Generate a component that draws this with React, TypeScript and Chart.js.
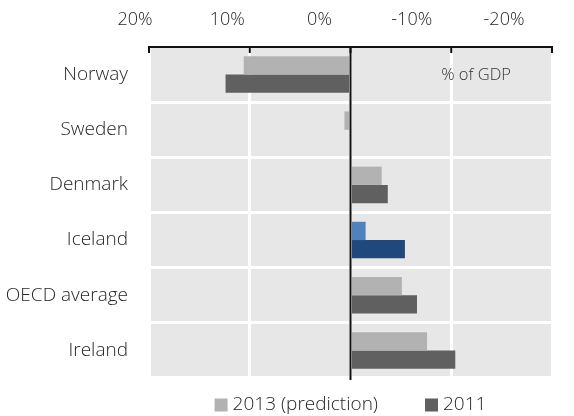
import React, { useEffect, useRef } from "react";
import { Chart, registerables } from "chart.js";

Chart.register(...registerables);

const categories = ["Norway", "Sweden", "Denmark", "Iceland", "OECD average", "Ireland"];
const series2013 = [10.6, 0.6, -3.1, -1.5, -5.1, -7.6];
const series2011 = [12.4, 0, -3.7, -5.4, -6.6, -10.4];
const tickValues = [20, 10, 0, -10, -20];
const seriesLabels = ["2013 (prediction)", "2011"];
const unitNote = "% of GDP";

const FONT = "'Open Sans', 'DejaVu Sans', sans-serif";
const light2013 = "#b2b2b2";
const dark2011 = "#606060";
const iceLight = "#4f81bd";
const iceDark = "#1f497d";

export default function App() {
  const ref = useRef<HTMLCanvasElement | null>(null);

  useEffect(() => {
    document.body.style.margin = "0";
    const canvas = ref.current;
    if (!canvas) return;

    const decor = {
      id: "decor",
      beforeDraw(chart: any) {
        const { ctx, chartArea } = chart;
        ctx.save();
        ctx.fillStyle = "#e7e7e7";
        ctx.fillRect(chartArea.left, chartArea.top, chartArea.right - chartArea.left, chartArea.bottom - chartArea.top);
        ctx.restore();
      },
      afterDatasetsDraw(chart: any) {
        const { ctx, chartArea, scales } = chart;
        const x = scales.x;
        const y = scales.y;
        ctx.save();
        // zero line
        const x0 = x.getPixelForValue(0);
        ctx.strokeStyle = "#111";
        ctx.lineWidth = 2;
        ctx.beginPath();
        ctx.moveTo(x0, chartArea.top);
        ctx.lineTo(x0, chartArea.bottom + 2);
        ctx.stroke();
        // top axis line
        ctx.beginPath();
        ctx.moveTo(chartArea.left - 1, chartArea.top);
        ctx.lineTo(chartArea.right + 1, chartArea.top);
        ctx.stroke();
        // tick marks
        tickValues.forEach((v) => {
          const px = x.getPixelForValue(v);
          ctx.beginPath();
          ctx.moveTo(px, chartArea.top);
          ctx.lineTo(px, chartArea.top + 6);
          ctx.stroke();
        });
        // tick labels
        ctx.fillStyle = "#262626";
        ctx.font = `300 18px ${FONT}`;
        ctx.textAlign = "center";
        ctx.textBaseline = "middle";
        tickValues.forEach((v) => {
          const px = x.getPixelForValue(v);
          const lx = 0.9156 * px - 1.4;
          ctx.fillText(`${v}%`, lx, 20);
        });
        // unit note
        ctx.font = `300 16.5px ${FONT}`;
        ctx.textAlign = "left";
        ctx.fillStyle = "#333";
        ctx.fillText(unitNote, x.getPixelForValue(-9), y.getPixelForValue(0) + 1);
        // legend
        ctx.font = `300 19px ${FONT}`;
        const colors = [light2013, dark2011];
        const box = 13;
        const gap = 5;
        const spacing = 47;
        const widths = seriesLabels.map((l) => ctx.measureText(l).width);
        const total = widths.reduce((a, w) => a + box + gap + w, 0) + spacing * (seriesLabels.length - 1);
        let lx = (chartArea.left + chartArea.right) / 2 - total / 2;
        const ly = 405;
        seriesLabels.forEach((l, i) => {
          ctx.fillStyle = colors[i];
          ctx.fillRect(lx, ly - box / 2, box, box);
          ctx.fillStyle = "#262626";
          ctx.fillText(l, lx + box + gap, ly);
          lx += box + gap + widths[i] + spacing;
        });
        ctx.restore();
      },
    };

    const chart = new Chart(canvas, {
      type: "bar",
      data: {
        labels: categories,
        datasets: [
          {
            label: seriesLabels[0],
            data: series2013,
            backgroundColor: categories.map((c) => (c === "Iceland" ? iceLight : light2013)),
            categoryPercentage: 0.663,
            barPercentage: 1,
          },
          {
            label: seriesLabels[1],
            data: series2011,
            backgroundColor: categories.map((c) => (c === "Iceland" ? iceDark : dark2011)),
            categoryPercentage: 0.663,
            barPercentage: 1,
          },
        ],
      },
      options: {
        indexAxis: "y",
        responsive: false,
        animation: false,
        layout: { padding: { top: 0, left: 0, right: 22, bottom: 38 } },
        plugins: {
          legend: { display: false },
          tooltip: { enabled: false },
        },
        scales: {
          x: {
            position: "top",
            reverse: true,
            min: -20,
            max: 20,
            ticks: { stepSize: 10, display: false },
            grid: { color: "#ffffff", lineWidth: 3, drawTicks: false },
            border: { display: false },
            afterFit: (s: any) => {
              s.height = 47;
            },
          },
          y: {
            ticks: {
              color: "#262626",
              padding: 21,
              font: { family: FONT, size: 19, weight: "300" as any },
            },
            grid: { color: "#ffffff", lineWidth: 3, drawTicks: false, offset: true },
            border: { display: false },
            afterFit: (s: any) => {
              s.width = 149;
            },
          },
        },
      },
      plugins: [decor],
    });

    return () => chart.destroy();
  }, []);

  return (
    <div style={{ width: 574, height: 416, background: "#fff" }}>
      <canvas ref={ref} width={574} height={416} />
    </div>
  );
}
